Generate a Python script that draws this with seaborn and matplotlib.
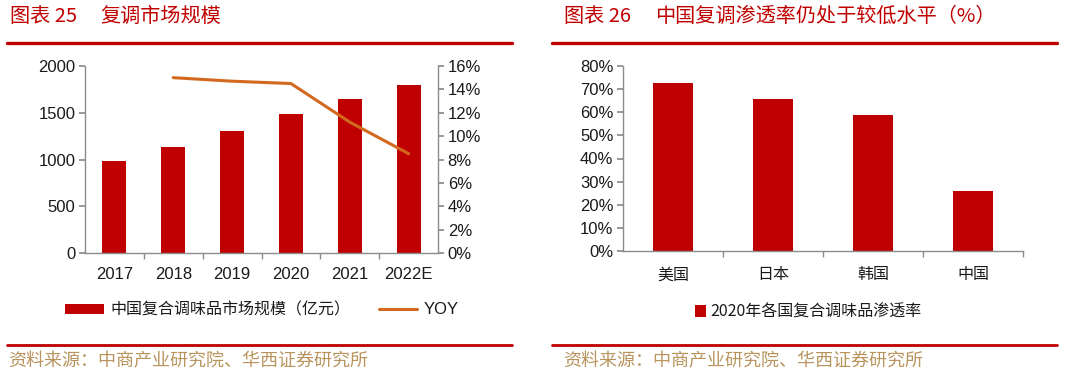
import numpy as np
import pandas as pd
import matplotlib
matplotlib.use("Agg")
import matplotlib.pyplot as plt
from matplotlib.ticker import FuncFormatter, FixedLocator
from matplotlib.lines import Line2D
from matplotlib.patches import Patch
import seaborn as sns

# ---------------- data ----------------
years = ["2017", "2018", "2019", "2020", "2021", "2022E"]
market_size = [980, 1130, 1300, 1483, 1650, 1797]          # 亿元
yoy_years = ["2018", "2019", "2020", "2021", "2022E"]
yoy_pct = [15.0, 14.7, 14.5, 11.2, 8.5]                    # %

countries = ["美国", "日本", "韩国", "中国"]
penetration = [72.5, 65.7, 58.7, 25.8]                     # %

title_left_num = "图表 25"
title_left = "复调市场规模"
title_right_num = "图表 26"
title_right = "中国复调渗透率仍处于较低水平（%）"
legend_bar_left = "中国复合调味品市场规模（亿元）"
legend_line_left = "YOY"
legend_right = "2020年各国复合调味品渗透率"
source = "资料来源：中商产业研究院、华西证券研究所"

# ---------------- style ----------------
sns.set_theme(style="white")
plt.rcParams["font.family"] = ["Liberation Sans", "Noto Sans CJK SC", "DejaVu Sans"]
CJK = ["Noto Sans CJK SC", "DejaVu Sans"]

RED = "#C00000"
ORANGE = "#D2691E"
GOLD = "#B8945C"
SPINE = "#8C8C8C"
TXT = "#1a1a1a"

fig = plt.figure(figsize=(10.8, 3.75), dpi=100)
W, H = 1080, 375

def fx(px):
    return px / W

def fy(py):
    return 1 - py / H

# ---------------- left chart ----------------
axL = fig.add_axes([fx(85), fy(253), fx(438 - 85), (253 - 66) / H])
dfL = pd.DataFrame({"year": years, "size": market_size})
sns.barplot(data=dfL, x="year", y="size", color=RED, width=0.41,
            saturation=1, ax=axL, edgecolor="none")
axL.set_ylim(0, 2000)
axL.set_yticks(np.arange(0, 2001, 500))
axL.set_xlim(-0.5, len(years) - 0.5)
axL.set_xlabel("")
axL.set_ylabel("")

axR2 = axL.twinx()
pos = [years.index(y) for y in yoy_years]
dfY = pd.DataFrame({"pos": pos, "yoy": yoy_pct})
sns.lineplot(data=dfY, x="pos", y="yoy", color=ORANGE, linewidth=2.2,
             ax=axR2, sort=False)
axR2.set_ylim(0, 16)
axR2.set_yticks(np.arange(0, 17, 2))
axR2.yaxis.set_major_formatter(FuncFormatter(lambda v, p: f"{v:.0f}%"))
axR2.set_xlim(-0.5, len(years) - 0.5)
axR2.set_xlabel("")
axR2.set_ylabel("")

for ax in (axL, axR2):
    for s in ax.spines.values():
        s.set_color(SPINE)
        s.set_linewidth(1.0)
    ax.spines["top"].set_visible(False)
axL.spines["right"].set_visible(False)
axR2.spines["left"].set_visible(False)
axR2.spines["bottom"].set_visible(False)

axL.tick_params(axis="y", direction="out", length=4, color=SPINE,
                labelsize=12, labelcolor=TXT, pad=3, left=True)
axR2.tick_params(axis="y", direction="out", length=4, color=SPINE,
                 labelsize=12, labelcolor=TXT, pad=3, right=True)
axL.tick_params(axis="x", which="major", length=0, labelsize=12,
                labelcolor=TXT, pad=10, bottom=True)
axL.xaxis.set_minor_locator(FixedLocator(np.arange(0.5, len(years) - 1, 1.0)))
axL.tick_params(axis="x", which="minor", direction="out", length=4,
                color=SPINE, bottom=True)

# ---------------- right chart ----------------
axP = fig.add_axes([fx(623), fy(251), fx(1023 - 623), (251 - 66) / H])
dfP = pd.DataFrame({"country": countries, "pen": penetration})
sns.barplot(data=dfP, x="country", y="pen", color=RED, width=0.4,
            saturation=1, ax=axP, edgecolor="none")
axP.set_ylim(0, 80)
axP.set_yticks(np.arange(0, 81, 10))
axP.yaxis.set_major_formatter(FuncFormatter(lambda v, p: f"{v:.0f}%"))
axP.set_xlim(-0.5, len(countries) - 0.5)
axP.set_xlabel("")
axP.set_ylabel("")
for s in axP.spines.values():
    s.set_color(SPINE)
    s.set_linewidth(1.0)
axP.spines["top"].set_visible(False)
axP.spines["right"].set_visible(False)
axP.tick_params(axis="y", direction="out", length=4, color=SPINE,
                labelsize=12, labelcolor=TXT, pad=3, left=True)
axP.tick_params(axis="x", which="major", length=0, labelsize=11.5,
                labelcolor=TXT, pad=11, bottom=True)
for lab in axP.get_xticklabels():
    lab.set_fontfamily(CJK)
axP.xaxis.set_minor_locator(FixedLocator(np.arange(0.5, len(countries) + 0.1, 1.0)))
axP.tick_params(axis="x", which="minor", direction="out", length=4,
                color=SPINE, bottom=True)

# ---------------- legends ----------------
hL = [Patch(facecolor=RED, edgecolor="none", label=legend_bar_left),
      Line2D([0], [0], color=ORANGE, lw=2.2, label=legend_line_left)]
legL = fig.legend(handles=hL, loc="center", bbox_to_anchor=(fx(262), fy(310)),
                  ncol=2, frameon=False, handlelength=2.4,
                  handleheight=0.6, handletextpad=0.4, columnspacing=1.8,
                  prop={"family": CJK, "size": 11.5})
for t in legL.get_texts():
    t.set_color(TXT)
legL.get_texts()[1].set_fontfamily(["Liberation Sans"])
legL.get_texts()[1].set_fontsize(12)

hR = [Patch(facecolor=RED, edgecolor="none", label=legend_right)]
legR = fig.legend(handles=hR, loc="center", bbox_to_anchor=(fx(808), fy(312)),
                  ncol=1, frameon=False, handlelength=0.7, handleheight=0.7,
                  handletextpad=0.25, prop={"family": CJK, "size": 11.5})
for t in legR.get_texts():
    t.set_color(TXT)

# ---------------- headers / footers ----------------
fig.text(fx(10), fy(16), title_left_num, color=RED, fontsize=14.5,
         family=CJK, va="center", ha="left")
fig.text(fx(100), fy(16), title_left, color=RED, fontsize=14.5,
         family=CJK, va="center", ha="left")
fig.text(fx(564), fy(16), title_right_num, color=RED, fontsize=14.5,
         family=CJK, va="center", ha="left")
fig.text(fx(655), fy(16), title_right, color=RED, fontsize=14.5,
         family=CJK, va="center", ha="left")

for x0, x1 in ((7, 512), (552, 1057)):
    fig.add_artist(Line2D([fx(x0), fx(x1)], [fy(42.5), fy(42.5)],
                          color=RED, lw=2.4, transform=fig.transFigure))
    fig.add_artist(Line2D([fx(x0), fx(x1)], [fy(345), fy(345)],
                          color=RED, lw=2.0, transform=fig.transFigure))

fig.text(fx(8), fy(361), source, color=GOLD, fontsize=13,
         family=CJK, va="center", ha="left")
fig.text(fx(563), fy(361), source, color=GOLD, fontsize=13,
         family=CJK, va="center", ha="left")

fig.savefig("out.png", dpi=100, facecolor="white")
